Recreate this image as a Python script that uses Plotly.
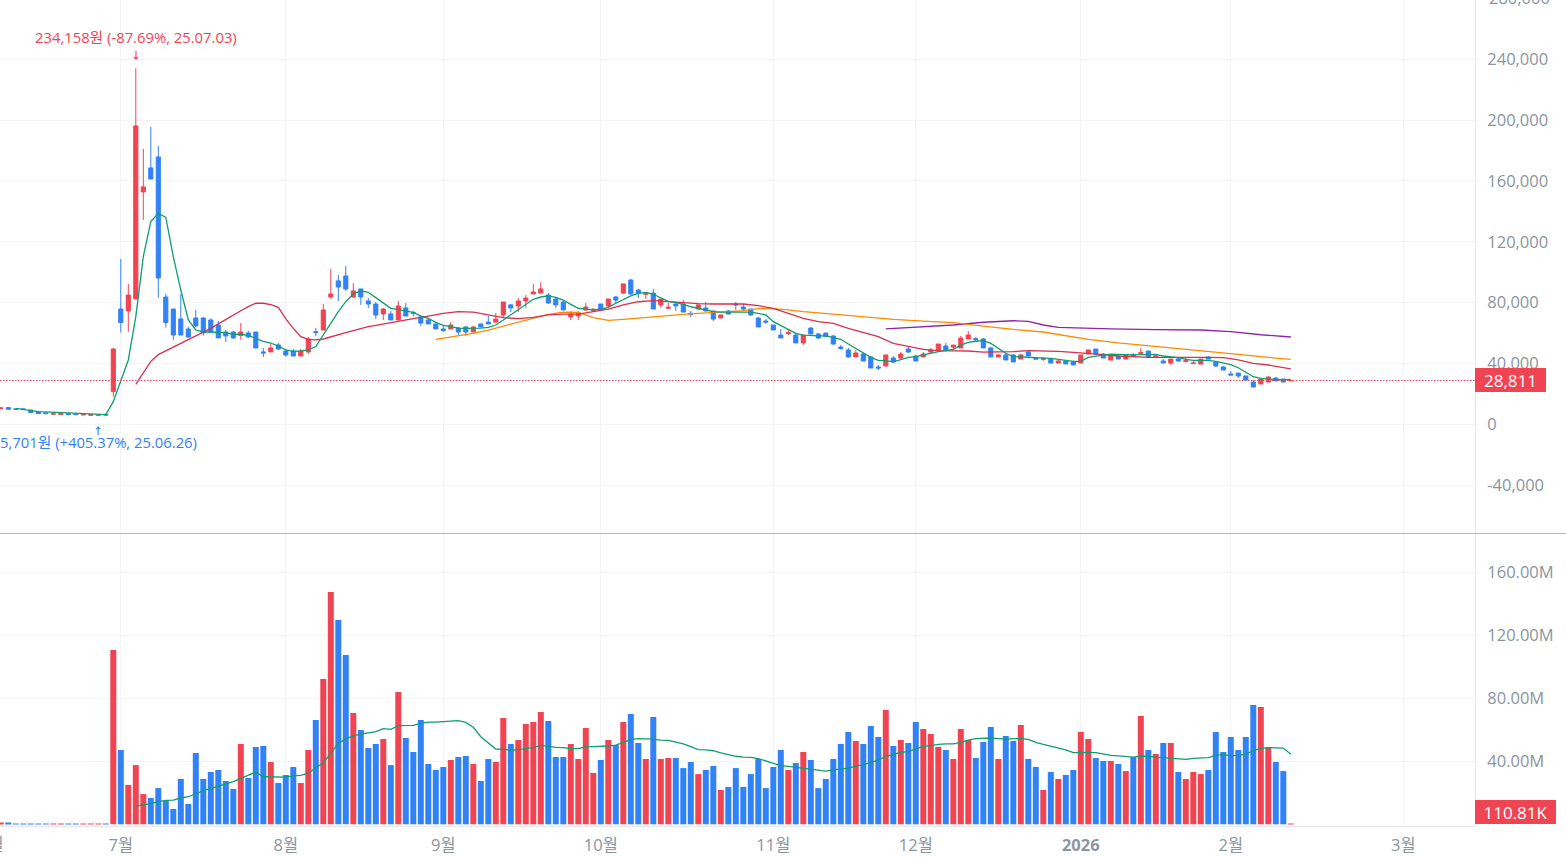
import plotly.graph_objects as go
from plotly.subplots import make_subplots

RED = "#F04452"
BLUE = "#3182F6"
GRAY = "#8B95A1"
GRID = "#F2F4F6"
FONT = "Open Sans, Noto Sans CJK KR"

# candle index: 0 = 2025-06-30, one step per trading day; first candle is index -15
first_index = -15
up = [1,0,0,0,0,0,0,1,1,0,0,1,1,1,0,
      1,0,1,1,1,0,0,0,0,0, 0,0,0,0,0,0,0,1,0,0, 0,1,0,0,0,1,1,0,1,1, 0,0,1,0,0,0,1,0,1,0,
      0,0,0,0,0,1,0,0,1,0, 0,1,1,0,1,1,1,1,0,0, 0,1,1,1,1,0,1,0,1,0, 0,1,0,1,1,0,0,0,1,0,
      0,1,0,0,0,0,0,0,0,0, 1,0,1,0,0,0,0,0,0,1, 0,0,0,1,0,1,0,0,1,1, 1,0,1,1,1,0,0,0,1,0,
      0,1,0,0,1,0,1,0,0,1, 1,0,0,1,0,1,0,1,0,1, 0,1,0,1,1,1,0,0,0,0, 0,0,0,1,1,0,0,1]

# prices in thousand KRW
body_top = [10.7,11.0,10.1,10.1,9.4,8.1,7.5,7.0,7.0,7.0,6.8,6.6,6.4,6.4,6.6,
    49.5,75.8,85.0,196.2,156.1,168.6,175.8,83.7,75.8,69.3,
    62.7,69.9,69.9,68.6,65.3,60.7,60.7,60.7,60.1,60.7,
    47.6,50.2,52.2,48.2,48.2,48.2,56.1,60.9,75.2,85.7,
    94.3,97.5,87.7,89.0,81.1,79.1,75.8,72.6,77.8,76.5,
    73.4,70.6,68.6,66.0,62.7,65.3,63.3,64.0,64.0,66.0,
    67.2,69.2,80.4,78.5,81.1,83.0,87.0,89.0,85.0,82.4,
    80.4,72.5,73.2,77.1,75.6,79.1,82.4,83.7,92.3,94.9,
    88.3,86.1,86.3,82.4,76.9,79.1,79.1,73.0,78.5,76.5,
    74.5,71.9,74.5,79.1,77.1,75.8,69.9,67.9,65.3,58.7,
    60.3,58.7,58.7,63.3,59.4,60.0,58.1,50.8,48.9,46.9,
    46.2,44.3,37.7,45.6,43.6,46.2,49.5,44.9,46.2,48.9,
    52.8,51.5,52.1,56.7,58.7,56.3,56.1,50.2,45.6,45.6,
    45.6,45.6,47.5,43.6,43.2,42.9,41.6,41.6,41.0,45.6,
    48.9,49.5,46.2,45.6,44.9,45.6,45.6,47.1,48.2,44.9,
    41.6,42.9,42.9,41.8,40.3,42.9,44.3,41.0,37.7,33.1,
    33.7,31.8,27.8,29.8,31.1,30.4,29.8,28.811]
body_bottom = [10.3,9.9,9.9,9.9,7.7,7.0,7.0,6.6,6.4,6.4,6.4,6.1,5.9,5.9,6.1,
    21.5,66.9,74.5,82.4,152.8,161.3,96.2,66.9,58.7,58.7,
    57.4,64.7,60.1,60.7,56.8,58.1,56.8,58.3,57.4,50.2,
    46.9,47.6,49.5,45.6,44.9,44.9,47.6,60.3,62.0,83.7,
    90.3,89.0,83.7,83.7,79.1,71.9,72.6,68.6,68.6,71.2,
    73.0,66.6,66.0,62.7,61.6,62.7,60.7,60.7,60.7,64.0,
    66.0,67.2,71.9,76.5,77.8,81.1,85.7,86.3,79.8,78.5,
    75.2,70.6,71.2,75.2,74.9,75.2,77.8,81.7,86.3,85.7,
    86.3,85.5,75.8,78.5,76.3,77.8,73.8,72.5,75.8,74.5,
    69.2,69.9,72.5,78.5,75.8,71.9,64.0,67.2,62.0,56.8,
    59.6,53.5,53.5,59.4,56.7,57.6,52.8,49.9,44.3,44.3,
    41.6,37.0,37.0,38.3,41.0,43.6,47.5,41.6,44.3,47.5,
    48.2,48.9,50.8,50.2,56.1,55.6,50.2,44.3,44.3,42.3,
    41.0,42.9,44.9,42.9,42.7,40.3,40.3,39.7,39.0,40.3,
    46.2,46.2,43.6,42.2,42.9,42.9,44.9,46.7,44.3,44.3,
    40.3,40.3,41.6,41.2,39.9,39.6,42.9,38.3,35.7,32.4,
    31.8,29.1,24.5,26.5,27.8,28.5,27.8,28.5]
highs = [11.2,11.2,10.1,10.1,9.4,8.1,7.5,7.0,7.0,7.0,6.8,6.6,6.4,6.4,6.6,
    50.0,108.7,92.3,234.158,181.1,195.5,183.0,85.7,75.8,85.7,
    64.0,75.2,70.4,69.7,68.0,62.0,61.4,66.6,61.4,60.7,
    50.2,52.8,53.5,49.5,49.5,49.5,57.4,63.3,79.1,102.1,
    98.2,104.1,92.9,89.0,83.1,80.4,76.5,74.5,81.1,79.8,
    74.5,71.9,69.7,66.0,65.3,67.2,64.0,64.6,64.6,66.0,
    71.2,73.2,80.4,79.1,83.1,85.0,92.3,93.6,86.3,83.7,
    81.1,74.5,74.5,79.8,76.5,79.1,82.4,84.4,92.3,95.5,
    89.0,87.0,89.0,82.4,79.8,80.4,81.7,74.5,79.1,80.4,
    74.5,71.9,75.2,80.4,79.1,75.8,70.6,69.2,65.3,62.7,
    62.7,59.4,58.7,64.0,60.0,60.0,58.7,52.1,50.2,48.9,
    46.9,44.9,39.0,45.6,44.9,47.5,51.5,45.6,47.5,50.2,
    52.8,53.5,52.1,58.1,61.4,57.4,56.7,50.8,46.2,46.9,
    46.2,46.2,48.2,44.3,44.3,43.6,42.3,42.3,41.6,45.6,
    48.9,49.5,46.9,46.2,46.2,46.2,46.9,50.2,48.2,45.6,
    42.9,42.9,43.6,43.6,42.2,42.9,44.3,41.6,38.3,35.0,
    33.7,31.8,29.1,29.8,31.8,31.1,29.8,29.1]
lows = [9.9,9.9,9.9,9.9,7.7,7.0,7.0,6.6,6.4,6.4,6.4,6.1,5.9,5.701,6.1,
    18.2,60.3,60.9,82.4,134.4,161.3,83.3,63.6,55.5,58.7,
    56.8,64.0,58.3,60.1,56.8,54.1,56.1,55.5,56.8,50.2,
    44.3,47.6,48.9,44.3,44.9,44.9,46.3,58.1,62.0,82.4,
    81.1,87.7,83.1,78.5,76.5,69.3,68.6,68.6,68.6,71.2,
    70.8,64.6,66.0,62.7,60.7,62.7,58.5,58.1,60.7,64.0,
    66.0,67.2,69.9,73.8,73.8,76.5,85.7,86.3,79.1,76.5,
    75.2,68.6,68.6,74.5,73.8,75.2,76.5,79.1,85.7,85.0,
    83.0,82.4,75.8,76.5,75.8,74.5,73.8,70.6,75.2,74.5,
    67.9,69.9,72.5,75.2,74.5,71.2,64.0,66.0,62.0,56.8,
    58.7,53.5,52.1,59.4,56.1,57.6,52.1,48.9,43.6,44.3,
    41.6,37.0,35.7,38.3,40.3,42.9,46.9,41.6,44.3,46.2,
    48.2,48.2,49.5,50.2,56.1,54.8,50.2,44.3,44.3,42.3,
    41.0,42.9,44.9,42.9,41.6,40.3,40.3,39.7,39.0,40.3,
    46.2,45.6,43.6,42.2,42.9,42.9,44.9,46.2,44.3,44.3,
    40.3,39.0,41.0,41.2,39.9,39.6,42.9,37.7,35.7,32.4,
    30.4,29.1,24.5,26.5,27.8,28.5,27.8,28.5]

# volume in millions of shares
volumes = [.8,.8,.4,.4,.4,.4,.4,.4,.4,.4,.4,.4,.4,.4,.4,
    110.6,47.2,25.0,37.6,19.2,16.7,23.0,15.4,9.7,28.8,
    12.9,45.3,28.8,33.2,34.5,27.5,22.4,51.0,29.4,49.1,
    49.7,39.5,26.2,31.3,36.4,26.2,47.2,66.2,92.2,147.5,
    129.7,107.5,70.6,59.9,48.4,51.0,54.2,37.6,84.0,54.8,
    45.9,66.2,38.3,34.5,36.4,40.8,42.7,43.4,38.3,27.5,
    41.5,39.6,67.5,51.0,53.5,63.7,65.0,71.3,65.6,42.7,
    42.7,51.0,41.5,61.1,32.6,40.8,53.5,50.3,65.0,70.0,
    51.6,41.5,68.1,41.5,42.1,42.1,35.7,39.6,31.9,34.5,
    37.0,21.8,23.7,35.7,23.7,31.9,41.5,23.0,36.4,47.2,
    34.5,38.9,45.9,40.8,23.0,28.8,41.5,51.0,58.6,52.9,
    51.0,62.4,55.4,72.6,49.7,53.5,51.6,64.9,60.5,57.3,
    49.0,47.2,41.5,60.5,53.5,42.1,52.2,61.8,41.5,56.1,
    52.9,63.0,41.5,36.4,21.8,33.2,28.8,31.3,34.5,58.6,
    54.1,42.1,40.2,40.2,38.3,33.8,42.7,68.8,47.2,44.6,
    51.6,51.6,33.2,28.8,33.2,31.9,34.5,58.6,45.9,55.4,
    47.2,55.4,75.7,74.5,49.0,39.6,33.8,0.11081]

ma5_index = [-13,-10,-6,-1] + list(range(0,158))
ma5_values = [10.5,8.3,7.5,6.4,
    14.9,28.5,42.3,70.8,110.3,133.3,138.8,136.1,110.3,88.3,
    68.6,62.0,60.7,60.7,60.5,60.1,59.2,59.2,58.5,56.6,
    54.6,53.3,51.5,48.9,48.0,48.2,48.9,51.1,58.7,66.4,
    74.1,80.7,85.7,87.7,86.8,83.3,80.0,76.3,75.4,74.7,
    73.6,71.2,69.7,67.0,65.1,64.2,63.3,63.1,63.1,63.3,
    63.8,65.3,68.6,71.9,75.2,78.5,82.2,83.7,84.4,83.5,
    81.7,78.9,76.3,75.8,75.2,75.6,76.9,79.6,82.2,84.4,
    86.1,86.8,85.5,83.0,80.9,80.0,78.9,77.3,76.3,75.2,
    74.1,73.8,73.8,74.1,74.1,73.8,73.0,71.9,67.5,65.0,
    62.0,59.8,58.7,58.3,58.1,58.1,57.2,55.9,52.8,49.9,
    47.3,44.0,42.1,41.8,41.0,42.3,44.0,44.5,45.6,46.7,
    47.8,48.4,49.3,52.1,53.9,54.6,55.0,53.2,49.9,46.7,
    44.5,44.3,44.0,44.0,44.0,43.4,42.7,42.1,41.4,41.4,
    44.0,44.9,45.8,46.2,46.0,45.6,45.6,45.8,45.8,46.0,
    44.9,44.5,43.8,42.7,42.1,42.1,42.1,41.4,40.5,39.2,
    37.2,34.2,31.3,30.2,29.6,29.3,29.3,29.6]

ma20_index = list(range(3,39)) + list(range(40,158,2)) + [157]
ma20_values = [26.3,34.2,41.4,45.8,48.2,50.6,53.0,55.5,57.9,60.5,63.1,66.0,69.0,71.9,74.7,77.4,79.6,
    79.6,78.7,76.9,69.3,63.1,57.6,55.9,55.5,56.1,57.6,59.0,60.3,61.6,63.1,64.2,65.0,66.0,66.9,67.5,
    69.5,71.2,73.0,74.1,73.8,71.9,70.1,69.5,70.3,71.9,72.5,72.5,74.1,75.8,78.5,80.6,81.3,80.6,80.0,
    79.3,79.1,78.9,79.1,78.0,76.3,73.0,69.7,67.5,66.4,63.1,60.2,57.6,53.2,51.0,49.3,48.4,48.2,48.2,
    47.5,47.5,47.8,48.4,48.4,48.0,47.3,46.7,45.8,44.9,44.3,44.0,44.0,43.8,44.0,44.0,43.8,42.3,40.1,
    39.0,37.2,36.4]
ma20_index = ma20_index[:len(ma20_values)]

ma60_index = [43,46,48,50,52,54,56,58,60,62,64,66,68,70,72,74,76,78,80,82,84,86,88,90,
              92,96,100,104,108,112,116,120,124,126,130,134,138,142,146,150,154,157]
ma60_values = [55.9,58.1,59.8,62.0,64.6,67.2,69.7,72.3,73.8,73.6,70.1,68.3,69.0,69.9,70.8,71.6,72.3,73.0,73.6,74.1,74.7,76.0,76.0,75.2,
               74.1,72.5,70.8,69.0,67.9,66.8,64.6,62.4,60.7,59.2,55.9,53.5,51.7,49.9,47.8,46.0,44.0,42.7]

ma120_index = [103,108,112,116,120,122,124,126,129,133,139,145,149,153,157]
ma120_values = [62.7,64.0,65.3,67.1,68.1,67.7,65.3,63.8,63.3,62.7,62.2,62.0,60.9,58.9,57.4]

vol_ma_index = list(range(3,158))
vol_ma_values = [11.6,12.3,13.1,14.4,15.2,15.4,16.7,17.5,19.7,21.4,22.8,24.3,26.0,27.1,29.2,31.3,33.2,
    30.2,30.0,30.0,30.0,30.7,31.1,32.4,35.5,39.1,45.0,51.4,54.2,56.1,57.3,58.0,58.8,60.7,60.3,62.6,
    62.8,62.8,64.1,64.9,64.9,65.2,65.8,65.8,64.7,61.6,55.6,51.4,47.8,47.6,47.0,47.4,48.0,48.7,50.1,
    49.3,48.9,48.7,48.0,48.0,49.3,49.3,49.3,49.7,50.3,51.8,53.7,54.4,54.4,54.1,53.5,53.3,52.2,51.0,
    49.3,47.4,47.2,46.7,45.3,44.2,43.2,42.7,42.5,41.7,40.2,38.5,37.2,36.8,36.2,35.7,35.3,34.5,33.8,
    34.5,35.1,35.7,37.0,37.7,39.3,40.8,43.2,44.6,45.7,46.1,47.8,49.5,49.9,50.7,51.0,51.0,52.0,53.5,
    54.4,54.8,54.8,54.4,54.1,54.4,54.4,53.9,52.0,50.7,49.5,48.7,47.2,45.5,45.7,45.7,45.5,44.6,43.8,
    43.4,42.9,42.7,43.2,43.2,42.7,42.3,41.7,41.2,41.2,41.9,42.1,42.3,43.8,44.2,43.6,43.8,44.6,46.7,
    48.2,48.7,48.5,48.4,44.4]

month_ticks = [1,23,44,65,88,107,129,149,172]
month_labels = ["7월","8월","9월","10월","11월","12월",
                '<b><span style="color:#8B95A1">2026</span></b>',"2월","3월"]
price_ticks = [-40,0,40,80,120,160,200,240]
price_labels = ["-40,000","0","40,000","80,000","120,000","160,000","200,000","240,000"]
volume_ticks = [40,80,120,160]
volume_labels = ["40.00M","80.00M","120.00M","160.00M"]

last_price = 28.811
last_volume = 0.11081

n = len(up)
assert all(len(a) == n for a in (body_top, body_bottom, highs, lows, volumes))
assert len(ma5_index) == len(ma5_values) and len(vol_ma_index) == len(vol_ma_values)
idx = list(range(first_index, first_index + n))
opens = [b if u else t for u, t, b in zip(up, body_top, body_bottom)]
closes = [t if u else b for u, t, b in zip(up, body_top, body_bottom)]

W, H = 1566, 857
L_PLOT, B_PX, SEP = 1475, 826, 533.5
fig = make_subplots(rows=2, cols=1, shared_xaxes=True, vertical_spacing=0,
                    row_heights=[0.65, 0.35])

fig.add_trace(go.Candlestick(x=idx, open=opens, high=highs, low=lows, close=closes,
    increasing=dict(line=dict(color=RED, width=1), fillcolor=RED),
    decreasing=dict(line=dict(color=BLUE, width=1), fillcolor=BLUE),
    whiskerwidth=0, hoverinfo="skip"), row=1, col=1)
for xs, ys, c in [(ma120_index, ma120_values, "#8E24AA"),
                  (ma60_index, ma60_values, "#FF8A00"),
                  (ma20_index, ma20_values, "#D9304C"),
                  (ma5_index, ma5_values, "#0E9F6E")]:
    fig.add_trace(go.Scatter(x=xs, y=ys, mode="lines", line=dict(color=c, width=1.3),
                             hoverinfo="skip"), row=1, col=1)
fig.add_trace(go.Bar(x=idx, y=volumes, marker=dict(color=[RED if u else BLUE for u in up], line_width=0),
                     width=0.8, hoverinfo="skip"), row=2, col=1)
fig.add_trace(go.Scatter(x=vol_ma_index, y=vol_ma_values, mode="lines",
                         line=dict(color="#0E9F6E", width=1.3), hoverinfo="skip"), row=2, col=1)

xrange = [-15.107, 181.56]
tickfont = dict(family=FONT, size=16.5, color=GRAY)
fig.update_xaxes(range=xrange, tickmode="array", tickvals=month_ticks, ticktext=month_labels,
                 showgrid=True, gridcolor=GRID, gridwidth=1, zeroline=False,
                 rangeslider_visible=False, tickfont=tickfont,
                 ticks="outside", ticklen=4, tickcolor="rgba(0,0,0,0)")
fig.update_xaxes(showticklabels=False, ticks="", row=1, col=1)
fig.update_xaxes(showline=True, linecolor="#E5E8EB", linewidth=1, row=2, col=1)

axis_common = dict(side="right", tickmode="array", showgrid=True, gridcolor=GRID, gridwidth=1,
                   zeroline=False, showline=True, linecolor="#E5E8EB", linewidth=1,
                   ticks="outside", ticklen=8, tickcolor="rgba(0,0,0,0)", tickfont=tickfont)
price_bottom = (B_PX - SEP) / B_PX
px_per_k = 60.83 / 40
fig.update_yaxes(range=[-(SEP - 424.3) / px_per_k, 424.3 / px_per_k], tickvals=price_ticks,
                 ticktext=price_labels, domain=[price_bottom, 1], **axis_common, row=1, col=1)
fig.update_yaxes(range=[-(826 - 824.3) * 40 / 63, (824.3 - SEP) * 40 / 63], tickvals=volume_ticks,
                 ticktext=volume_labels, domain=[0, price_bottom], **axis_common, row=2, col=1)

shapes = [
    dict(type="line", xref="paper", x0=0, x1=1, yref="y", y0=last_price, y1=last_price,
         line=dict(color=RED, width=1, dash="1.5px,1.5px")),
    dict(type="line", xref="paper", x0=0, x1=W / L_PLOT, yref="paper", y0=price_bottom, y1=price_bottom,
         line=dict(color="#B0B8C1", width=1)),
]
ann_font = dict(family=FONT, size=14.8)
annotations = [
    dict(xref="x", yref="y", x=3, y=234.158, text="<b>↓</b>", showarrow=False, yshift=13,
         font=dict(family=FONT, size=10, color=RED)),
    dict(xref="x", yref="y", x=3, y=234.158, text="234,158원 (-87.69%, 25.07.03)", showarrow=False,
         yshift=31, font=dict(color=RED, **ann_font)),
    dict(xref="x", yref="y", x=-2, y=5.701, text="<b>↑</b>", showarrow=False, yshift=-15,
         font=dict(family=FONT, size=10, color=BLUE)),
    dict(xref="paper", yref="y", x=199 / L_PLOT, xanchor="right", y=5.701,
         text="5,701원 (+405.37%, 25.06.26)", showarrow=False, yshift=-26,
         font=dict(color=BLUE, **ann_font)),
    dict(xref="paper", yref="y", x=1, xanchor="left", y=last_price, yanchor="middle",
         text="28,811", showarrow=False, width=71, height=24, bgcolor=RED, borderpad=0, borderwidth=0,
         font=dict(family=FONT, size=17, color="white")),
    dict(xref="paper", yref="y2", x=1, xanchor="left", y=last_volume, yanchor="bottom",
         text="110.81K", showarrow=False, width=81, height=24, bgcolor=RED, borderpad=0, borderwidth=0,
         font=dict(family=FONT, size=17, color="white")),
    dict(xref="paper", yref="paper", x=1 + 12 / L_PLOT, xanchor="left", y=(B_PX + 2.5) / B_PX,
         yanchor="middle", text="280,000", showarrow=False, font=tickfont),
    dict(xref="paper", yref="paper", x=-8 / L_PLOT, xanchor="right", xshift=14, y=(B_PX - 843) / B_PX,
         yanchor="middle", text="6월", showarrow=False, font=tickfont),
]
fig.update_layout(width=W, height=H, margin=dict(l=0, r=W - L_PLOT, t=0, b=H - B_PX, pad=0),
                  paper_bgcolor="white", plot_bgcolor="white", showlegend=False,
                  boxgap=0.45, boxgroupgap=0, bargap=0.2, shapes=shapes, annotations=annotations,
                  font=dict(family=FONT))
fig.write_html("out.html", config={"displayModeBar": False}, post_script="document.body.style.margin='0';")
